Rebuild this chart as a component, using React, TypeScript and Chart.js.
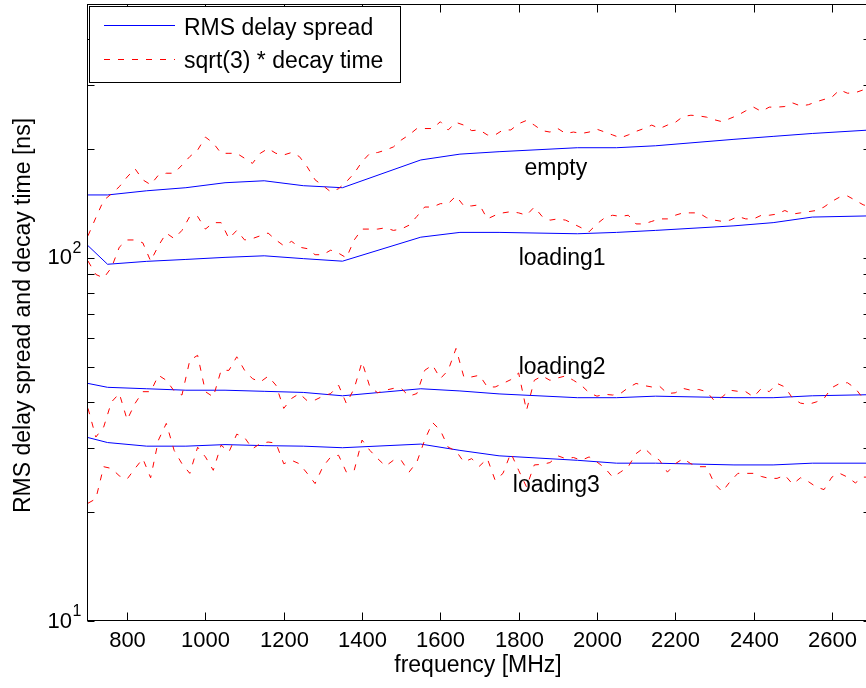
import React, { useEffect, useRef } from "react";
import { Chart, registerables } from "chart.js";

Chart.register(...registerables);

// ---------- data ----------
const rmsFreq = [700, 750, 850, 950, 1050, 1150, 1250, 1350, 1550, 1650, 1750, 1950, 2050, 2150, 2350, 2450, 2550, 2700];

const emptyRms = [149, 149, 153, 156, 161, 163, 158, 156, 186, 193, 196, 201, 201, 203.5, 212, 216, 220, 225];
const loading1Rms = [108, 96, 97.8, 99, 100.3, 101.3, 99.5, 97.9, 114, 117.5, 117.5, 116.5, 117.5, 119, 122.5, 125, 129.5, 130.5];
const loading2Rms = [45.1, 44.0, 43.6, 43.2, 43.2, 42.9, 42.6, 41.7, 43.6, 43.0, 42.2, 41.2, 41.2, 41.6, 41.2, 41.2, 41.7, 42.0];
const loading3Rms = [32.0, 31.0, 30.3, 30.3, 30.6, 30.4, 30.3, 30.0, 30.7, 29.5, 28.5, 27.7, 27.2, 27.2, 26.9, 26.9, 27.2, 27.2];

const decayFreq = [
  700, 720, 740, 760, 780, 800, 820, 840, 860, 880,
  900, 920, 940, 960, 980, 1000, 1020, 1040, 1060, 1080,
  1100, 1120, 1140, 1160, 1180, 1200, 1220, 1240, 1260, 1280,
  1300, 1320, 1340, 1360, 1380, 1400, 1420, 1440, 1460, 1480,
  1500, 1520, 1540, 1560, 1580, 1600, 1620, 1640, 1660, 1680,
  1700, 1720, 1740, 1760, 1780, 1800, 1820, 1840, 1860, 1880,
  1900, 1920, 1940, 1960, 1980, 2000, 2020, 2040, 2060, 2080,
  2100, 2120, 2140, 2160, 2180, 2200, 2220, 2240, 2260, 2280,
  2300, 2320, 2340, 2360, 2380, 2400, 2420, 2440, 2460, 2480,
  2500, 2520, 2540, 2560, 2580, 2600, 2620, 2640, 2660, 2680,
  2700,
];

const emptyDecay = [
  115, 129, 144, 150, 157, 167, 176, 164, 159, 169,
  171, 171, 180, 190, 198, 215, 207, 194, 194, 194,
  188, 182, 194, 200, 194, 192, 195, 190, 178, 164,
  158, 152, 155, 162, 171, 184, 194, 195, 198, 202,
  211, 218, 227, 227, 227, 237, 225, 236, 232, 224,
  225, 218, 218, 225, 225, 234, 239, 232, 224, 222,
  227, 220, 222, 220, 222, 226, 222, 218, 214, 218,
  223, 227, 232, 227, 232, 236, 245, 247, 246, 244,
  240, 237, 242, 247, 254, 260, 253, 260, 260, 261,
  267, 262, 264, 269, 273, 277, 290, 284, 285, 290,
  290,
];

const loading1Decay = [
  98, 90, 88, 94, 107, 112, 112, 110, 98, 108,
  117, 113, 119, 130, 130, 120, 125, 125, 113, 119,
  112, 113, 115, 117, 112, 108, 111, 107, 106, 102,
  102, 105, 103, 100, 112, 120, 120, 120, 121, 119,
  120, 123, 130, 138, 138, 141, 141, 148, 139, 139,
  140, 128, 131, 133, 134, 133, 131, 138, 130, 127,
  128, 127, 124, 121, 118, 124, 129, 131, 130, 131,
  124, 124, 126, 128, 128, 131, 133, 133, 133, 129,
  127, 126, 127, 130, 128, 128, 131, 131, 132, 135,
  132, 133, 134, 135, 138, 143, 147, 148, 144, 140,
  138,
];

const loading2Decay = [
  38.5, 32.1, 34.2, 40.1, 42.3, 35.8, 39.7, 42.8, 42.8, 47.5,
  46.0, 43.0, 41.9, 52.2, 53.9, 42.8, 41.4, 49.0, 49.0, 53.4,
  49.0, 46.5, 45.5, 47.2, 44.6, 38.5, 41.0, 42.3, 40.4, 40.6,
  41.6, 42.3, 44.6, 39.7, 43.7, 51.7, 44.1, 42.5, 43.2, 43.7,
  43.7, 41.6, 42.3, 49.0, 50.7, 46.5, 49.0, 56.3, 47.0, 47.0,
  47.5, 44.1, 44.1, 45.1, 46.2, 48.2, 38.0, 46.0, 47.3, 46.0,
  46.7, 47.3, 46.0, 44.6, 42.5, 41.6, 42.1, 41.9, 42.3, 43.9,
  45.1, 44.5, 44.1, 44.3, 42.3, 42.5, 43.7, 43.2, 43.4, 42.8,
  40.4, 41.4, 43.2, 42.9, 42.8, 41.4, 43.7, 42.8, 45.1, 44.1,
  41.0, 39.8, 39.5, 40.1, 41.0, 43.9, 45.1, 45.3, 43.7, 41.0,
  41.4,
];

const loading3Decay = [
  21.1, 21.7, 26.6, 26.3, 25.1, 24.6, 26.3, 28.0, 24.8, 31.5,
  35.0, 29.5, 27.1, 25.5, 30.1, 28.3, 26.0, 30.5, 29.2, 32.7,
  32.0, 29.8, 30.8, 31.1, 30.9, 27.1, 27.7, 27.1, 25.5, 23.9,
  26.6, 28.3, 28.6, 25.7, 26.0, 31.5, 29.5, 28.0, 26.7, 27.7,
  27.7, 25.7, 27.4, 31.5, 35.2, 33.5, 30.1, 29.4, 27.4, 28.0,
  26.7, 28.0, 24.4, 25.5, 29.0, 26.0, 23.4, 26.9, 27.0, 27.3,
  28.5, 28.0, 28.2, 27.7, 28.3, 27.4, 26.4, 24.9, 25.7, 26.6,
  28.9, 30.0, 28.6, 27.7, 25.7, 27.1, 28.0, 27.1, 26.6, 26.6,
  23.9, 22.7, 24.2, 25.5, 25.5, 25.5, 25.0, 24.7, 24.7, 25.2,
  23.8, 24.8, 24.2, 23.4, 23.0, 24.9, 25.5, 24.9, 24.0, 24.9,
  24.9,
];

const xTickValues = [800, 1000, 1200, 1400, 1600, 1800, 2000, 2200, 2400, 2600];
const yMajorTicks = [10, 100];
const yExponents = ["1", "2"];
const yMinorTicks = [20, 30, 40, 50, 60, 70, 80, 90, 200, 300, 400];

const annotationText = ["empty", "loading1", "loading2", "loading3"];
const annotationX = [1815, 1800, 1800, 1785];
const annotationY = [175.6, 99.5, 49.8, 23.6];

const legendLabels = ["RMS delay spread", "sqrt(3) * decay time"];
const xTitle = "frequency [MHz]";
const yTitle = "RMS delay spread and decay time [ns]";

const FONT = "'Liberation Sans', Arial, sans-serif";
const BLUE = "#0000ff";
const RED = "#ff0000";
const DASH = [6, 8];

function pts(xs: number[], ys: number[]) {
  return xs.map((x, i) => ({ x, y: ys[i] }));
}

const matlabPlugin = {
  id: "matlabFrame",
  afterDatasetsDraw(chart: any) {
    const ctx: CanvasRenderingContext2D = chart.ctx;
    const xs = chart.scales.x;
    const ys = chart.scales.y;
    const { left, right, top, bottom } = chart.chartArea;
    const L = Math.round(left) - 0.5;
    const R = Math.round(right) - 0.5;
    const T = Math.round(top) + 0.5;
    const B = Math.round(bottom) - 0.5;
    ctx.save();
    ctx.strokeStyle = "#000";
    ctx.fillStyle = "#000";
    ctx.lineWidth = 1;
    ctx.setLineDash([]);
    const line = (x1: number, y1: number, x2: number, y2: number) => {
      ctx.beginPath();
      ctx.moveTo(x1, y1);
      ctx.lineTo(x2, y2);
      ctx.stroke();
    };
    // frame
    ctx.strokeRect(L, T, R - L, B - T);
    // x ticks
    ctx.font = `22px ${FONT}`;
    ctx.textAlign = "center";
    ctx.textBaseline = "alphabetic";
    for (const v of xTickValues) {
      const px = Math.round(xs.getPixelForValue(v)) + 0.5;
      line(px, B, px, B - 8);
      line(px, T, px, T + 8);
      ctx.fillText(String(v), px, 647);
    }
    // y ticks
    for (const v of [...yMajorTicks, ...yMinorTicks]) {
      const py = Math.round(ys.getPixelForValue(v)) + 0.5;
      line(L, py, L + 7, py);
      line(R, py, R - 7, py);
    }
    yMajorTicks.forEach((v, i) => {
      const py = ys.getPixelForValue(v);
      ctx.font = `22px ${FONT}`;
      ctx.textAlign = "right";
      ctx.fillText("10", 72, py + 6.5);
      ctx.font = `16px ${FONT}`;
      ctx.textAlign = "left";
      ctx.fillText(yExponents[i], 72.5, py - 5);
    });
    // axis titles
    ctx.font = `23px ${FONT}`;
    ctx.textAlign = "center";
    ctx.fillText(xTitle, 478, 672);
    ctx.save();
    ctx.translate(29.5, (top + bottom) / 2 + 3);
    ctx.rotate(-Math.PI / 2);
    ctx.fillText(yTitle, 0, 0);
    ctx.restore();
    // annotations
    ctx.font = `23px ${FONT}`;
    ctx.textAlign = "left";
    annotationText.forEach((t, i) => {
      const px = xs.getPixelForValue(annotationX[i]);
      const py = ys.getPixelForValue(annotationY[i]);
      ctx.fillText(t, px, py + 6);
    });
    // legend
    ctx.fillStyle = "#fff";
    ctx.fillRect(89.5, 6.5, 311, 76);
    ctx.strokeStyle = "#000";
    ctx.strokeRect(89.5, 6.5, 311, 76);
    ctx.strokeStyle = BLUE;
    line(104, 25.5, 175, 25.5);
    ctx.strokeStyle = RED;
    ctx.setLineDash(DASH);
    line(104, 59.5, 175, 59.5);
    ctx.setLineDash([]);
    ctx.fillStyle = "#000";
    ctx.font = `23px ${FONT}`;
    ctx.textAlign = "left";
    ctx.fillText(legendLabels[0], 184, 35);
    ctx.fillText(legendLabels[1], 184, 68);
    ctx.restore();
  },
};

export default function App() {
  const ref = useRef<HTMLCanvasElement | null>(null);
  useEffect(() => {
    if (!ref.current) return;
    const red = (d: number[]) => ({
      data: pts(decayFreq, d),
      borderColor: RED,
      borderWidth: 1,
      borderDash: DASH,
      pointRadius: 0,
      fill: false,
      tension: 0,
    });
    const blue = (d: number[]) => ({
      data: pts(rmsFreq, d),
      borderColor: BLUE,
      borderWidth: 1,
      pointRadius: 0,
      fill: false,
      tension: 0,
    });
    const chart = new Chart(ref.current, {
      type: "line",
      data: {
        datasets: [
          red(emptyDecay),
          red(loading1Decay),
          red(loading2Decay),
          red(loading3Decay),
          blue(emptyRms),
          blue(loading1Rms),
          blue(loading2Rms),
          blue(loading3Rms),
        ] as any,
      },
      options: {
        animation: false,
        responsive: false,
        devicePixelRatio: 1,
        layout: { padding: { left: 88, right: 1, top: 4, bottom: 67 } },
        plugins: { legend: { display: false }, tooltip: { enabled: false } },
        scales: {
          x: { type: "linear", min: 700, max: 2700, display: false },
          y: { type: "logarithmic", min: 10, max: 500, display: false },
        },
      },
      plugins: [matlabPlugin],
    });
    return () => chart.destroy();
  }, []);
  return (
    <div
      style={{
        position: "fixed",
        left: 0,
        top: 0,
        width: 866,
        height: 688,
        overflow: "hidden",
        background: "#fff",
      }}
    >
      <canvas ref={ref} width={872} height={688} style={{ display: "block" }} />
    </div>
  );
}
